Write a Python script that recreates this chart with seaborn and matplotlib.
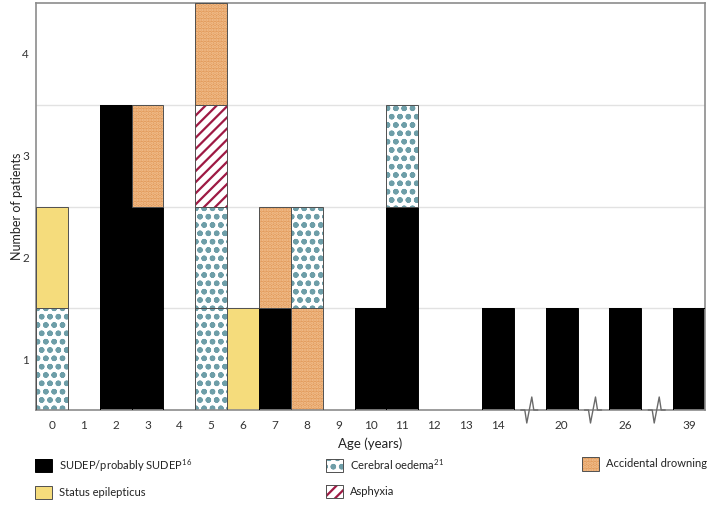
import matplotlib
matplotlib.use("Agg")
import matplotlib.pyplot as plt
from matplotlib.patches import Patch
import seaborn as sns

# Age slots ('' = axis break)
age_labels = ['0', '1', '2', '3', '4', '5', '6', '7', '8', '9', '10', '11',
              '12', '13', '14', '', '20', '', '26', '', '39']

# causes per age, bottom to top
stacks = [
    ['Cerebral', 'Status'],
    [],
    ['SUDEP', 'SUDEP', 'SUDEP'],
    ['SUDEP', 'SUDEP', 'Drowning'],
    [],
    ['Cerebral', 'Cerebral', 'Asphyxia', 'Drowning'],
    ['Status'],
    ['SUDEP', 'Drowning'],
    ['Drowning', 'Cerebral'],
    [],
    ['SUDEP'],
    ['SUDEP', 'SUDEP', 'Cerebral'],
    [],
    [],
    ['SUDEP'],
    [],
    ['SUDEP'],
    [],
    ['SUDEP'],
    [],
    ['SUDEP'],
]

legend_labels = {
    'SUDEP': 'SUDEP/probably SUDEP$^{16}$',
    'Status': 'Status epilepticus',
    'Cerebral': 'Cerebral oedema$^{21}$',
    'Asphyxia': 'Asphyxia',
    'Drowning': 'Accidental drowning',
}

# face colour, hatch colour, hatch
styles = {
    'SUDEP': ('black', 'black', None),
    'Status': ('#f5dc7c', '#f5dc7c', None),
    'Cerebral': ('white', '#6e9ea8', 'oo'),
    'Asphyxia': ('white', '#9e1a44', '///'),
    'Drowning': ('#e29a5a', '#f3c394', '.....'),
}

sns.set_theme(style='white')
plt.rcParams['font.family'] = ['Lato', 'DejaVu Sans']
plt.rcParams['mathtext.fontset'] = 'custom'
plt.rcParams['mathtext.rm'] = 'Lato'
plt.rcParams['hatch.linewidth'] = 1.6

fig = plt.figure(figsize=(7.09, 5.08), dpi=100)
ax = fig.add_axes([36 / 709, 1 - 410 / 508, 669 / 709, 407 / 508])

for y in [1.5, 2.5, 3.5]:
    ax.axhline(y, color='#e2e2e2', lw=1, zorder=0)


def seg(x, bottom, cause):
    face, hcol, hatch = styles[cause]
    ax.bar(x, 1, bottom=bottom, width=1, color=face, edgecolor=hcol,
           hatch=hatch, linewidth=0, zorder=2)
    edge = 'black' if cause == 'SUDEP' else '#505050'
    ax.bar(x, 1, bottom=bottom, width=1, fill=False, edgecolor=edge,
           linewidth=0.7, zorder=3)


for i, stack in enumerate(stacks):
    for k, cause in enumerate(stack):
        seg(i, 0.5 + k, cause)

ax.set_xlim(-0.5, len(age_labels) - 0.5)
ax.set_ylim(0.5, 4.5)
ax.set_xticks(range(len(age_labels)))
ax.set_xticklabels(age_labels)
ax.set_yticks([1, 2, 3, 4])
ax.tick_params(axis='both', length=0, labelsize=8.5, colors='#333333')
ax.tick_params(axis='x', pad=7)
ax.tick_params(axis='y', pad=5)

for s in ax.spines.values():
    s.set_color('#8c8c8c')
    s.set_linewidth(1.2)

ax.set_xlabel('Age (years)', fontsize=9.5, color='#222222', labelpad=5)
ax.set_ylabel('Number of patients', fontsize=9, color='#222222')
ax.yaxis.set_label_coords(-0.02, 0.5)

# axis break marks
px = 1 / 31.86
py = 1 / 407
for i, lab in enumerate(age_labels):
    if lab == '':
        xs = [i - 9 * px, i - 5 * px, i - 3 * px, i + 2 * px, i + 4 * px, i + 8 * px]
        ys = [0, 0, -13 * py, 13 * py, 0, 0]
        ax.plot(xs, ys, color='#6a6a6a', lw=1, transform=ax.get_xaxis_transform(),
                clip_on=False, zorder=5)


def handle(cause):
    face, hcol, hatch = styles[cause]
    edge = 'black' if cause == 'SUDEP' else '#505050'
    return (Patch(facecolor=face, edgecolor=hcol, hatch=hatch, linewidth=0),
            Patch(fill=False, edgecolor=edge, linewidth=0.7))


columns = [(['SUDEP', 'Status'], 35), (['Cerebral', 'Asphyxia'], 326),
           (['Drowning'], 582)]
for causes, xpix in columns:
    leg = fig.legend([handle(c) for c in causes], [legend_labels[c] for c in causes],
                     loc='upper left', bbox_to_anchor=(xpix / 709, 1 - 457 / 508),
                     frameon=False, fontsize=8, handlelength=1.5, handleheight=1.5,
                     handletextpad=0.7, labelspacing=1.1, borderpad=0,
                     borderaxespad=0)
    for t in leg.get_texts():
        t.set_color('#222222')

fig.savefig('out.png', dpi=100)
